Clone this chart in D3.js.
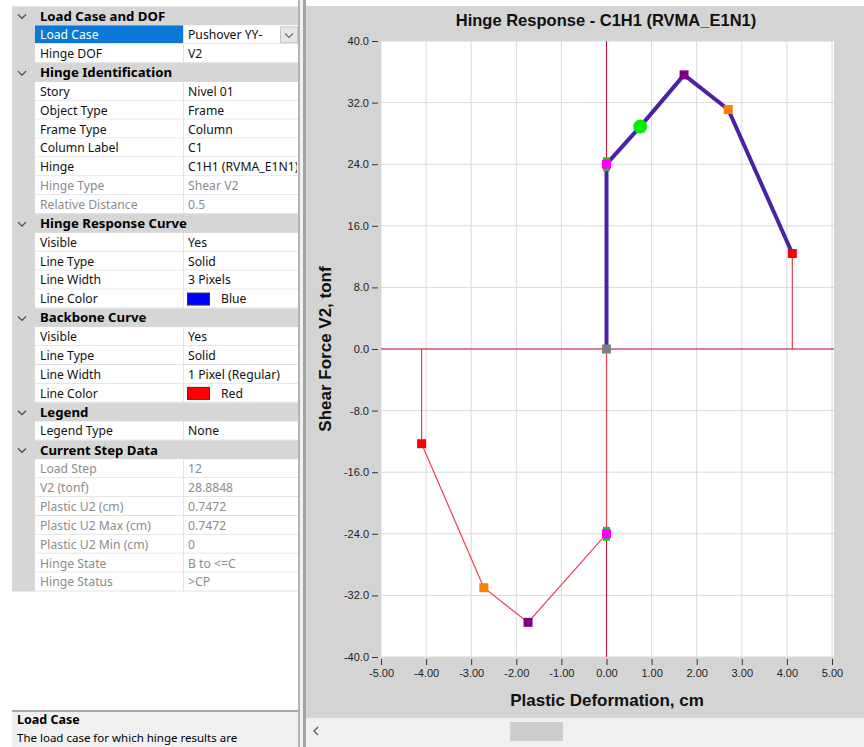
<!DOCTYPE html>
<html>
<head>
<meta charset="utf-8">
<script src="https://cdn.jsdelivr.net/npm/d3@7"></script>
<style>
  body { margin: 0; background: #fff; }
  svg { display: block; }
  .pg text { font-family: "Noto Sans", "Open Sans", sans-serif; font-size: 12.2px; }
  .pg .cat { font-weight: bold; font-size: 13.2px; }
  .axis text { font-family: "Liberation Sans", Arial, sans-serif; font-size: 11px; fill: #222; }
  .axis line { stroke: #333; }
  .ttl { font-family: "Liberation Sans", Arial, sans-serif; font-weight: bold; fill: #111; }
</style>
</head>
<body>
<div id="chart"></div>
<script>
// ---- chart values ----
const xTicks = [-5, -4, -3, -2, -1, 0, 1, 2, 3, 4, 5];
const yTicks = [-40, -32, -24, -16, -8, 0, 8, 16, 24, 32, 40];

// backbone curve (plastic deformation cm, shear tonf)
const backboneU = [-4.10, -4.10, -2.72, -1.74, 0, 0, 0, 1.72, 2.70, 4.12, 4.12];
const backboneV = [0, -12.3, -31.0, -35.5, -24.0, 0, 24.0, 35.6, 31.1, 12.4, 0];

// hinge response curve
const responseU = [0, 0, 0.7472, 1.72, 2.70, 4.12];
const responseV = [0, 24.0, 28.8848, 35.6, 31.1, 12.4];

// backbone points and their states
const pointU = [0, 0, 1.72, 2.70, 4.12, 0, -1.74, -2.72, -4.10];
const pointV = [0, 24.0, 35.6, 31.1, 12.4, -24.0, -35.5, -31.0, -12.3];
const pointState = ["A", "B", "C", "D", "E", "B", "C", "D", "E"];

// current step
const stepU = 0.7472;
const stepV = 28.8848;

// ---- property grid ----
const sectionTitles = ["Load Case and DOF", "Hinge Identification", "Hinge Response Curve",
  "Backbone Curve", "Legend", "Current Step Data"];
const sectionRows = [
  [["Load Case", "Pushover YY-"], ["Hinge DOF", "V2"]],
  [["Story", "Nivel 01"], ["Object Type", "Frame"], ["Frame Type", "Column"], ["Column Label", "C1"],
   ["Hinge", "C1H1 (RVMA_E1N1)"], ["Hinge Type", "Shear V2", true], ["Relative Distance", "0.5", true]],
  [["Visible", "Yes"], ["Line Type", "Solid"], ["Line Width", "3 Pixels"], ["Line Color", "Blue"]],
  [["Visible", "Yes"], ["Line Type", "Solid"], ["Line Width", "1 Pixel (Regular)"], ["Line Color", "Red"]],
  [["Legend Type", "None"]],
  [["Load Step", "12", true], ["V2 (tonf)", "28.8848", true], ["Plastic U2 (cm)", "0.7472", true],
   ["Plastic U2 Max (cm)", "0.7472", true], ["Plastic U2 Min (cm)", "0", true],
   ["Hinge State", "B to <=C", true], ["Hinge Status", ">CP", true]]
];
const swatchColors = { "Blue": "#0000ff", "Red": "#ff0000" };

const W = 864, H = 747;
const svg = d3.select("#chart").append("svg").attr("width", W).attr("height", H);

// plain hyphen for negatives, like the original
const loc = d3.formatLocale({ decimal: ".", thousands: ",", grouping: [3], currency: ["$", ""], minus: "-" });

// ================= left panel =================
const pg = svg.append("g").attr("class", "pg");
const rowTop = 6.5, rowH = 18.87, gx0 = 12, gx1 = 35, gxs = 183, gx2 = 298;

let rows = [];
sectionTitles.forEach((t, i) => {
  rows.push({ cat: true, name: t });
  sectionRows[i].forEach(r => rows.push({ cat: false, name: r[0], value: r[1], dim: !!r[2] }));
});

pg.append("defs").append("clipPath").attr("id", "valclip")
  .append("rect").attr("x", gxs).attr("y", 0).attr("width", gx2 - gxs - 1).attr("height", H);

// left strip
pg.append("rect").attr("x", gx0).attr("y", rowTop).attr("width", gx1 - gx0)
  .attr("height", rows.length * rowH).attr("fill", "#d6d6d6");

const rg = pg.selectAll("g.row").data(rows).join("g").attr("class", "row")
  .attr("transform", (d, i) => `translate(0,${rowTop + i * rowH})`);

rg.filter(d => d.cat).each(function(d) {
  const g = d3.select(this);
  g.append("rect").attr("x", gx0).attr("width", gx2 - gx0).attr("height", rowH).attr("fill", "#d6d6d6");
  g.append("path").attr("d", "M18,8 L22,12 L26,8").attr("fill", "none").attr("stroke", "#444").attr("stroke-width", 1.2);
  g.append("text").attr("class", "cat").attr("x", 40).attr("y", 14).text(d.name);
});

rg.filter(d => !d.cat).each(function(d) {
  const g = d3.select(this);
  const sel = d.name === "Load Case";
  g.append("rect").attr("x", gx1).attr("width", gx2 - gx1).attr("height", rowH).attr("fill", "#fff");
  if (sel) g.append("rect").attr("x", gx1).attr("width", gxs - gx1).attr("height", rowH - 1).attr("fill", "#0a78d4");
  g.append("line").attr("x1", gx1).attr("x2", gx2).attr("y1", rowH - 0.5).attr("y2", rowH - 0.5).attr("stroke", "#e2e2e2");
  g.append("line").attr("x1", gxs + 0.5).attr("x2", gxs + 0.5).attr("y1", 0).attr("y2", rowH).attr("stroke", "#e2e2e2");
  g.append("text").attr("x", 40).attr("y", 13.8).attr("fill", sel ? "#fff" : (d.dim ? "#8c8c8c" : "#111")).text(d.name);
  if (swatchColors[d.value]) {
    g.append("rect").attr("x", 187.5).attr("y", 3.5).attr("width", 22).attr("height", 12)
      .attr("fill", swatchColors[d.value]).attr("stroke", "#333");
    g.append("text").attr("x", 221).attr("y", 13.8).attr("fill", "#111").text(d.value);
  } else {
    g.append("text").attr("x", 188).attr("y", 13.8).attr("clip-path", "url(#valclip)")
      .attr("fill", d.dim ? "#8c8c8c" : "#111").text(d.value);
  }
  if (sel) {
    g.append("rect").attr("x", 280.5).attr("y", 1.5).attr("width", 17).attr("height", rowH - 3)
      .attr("fill", "#e6e6e6").attr("stroke", "#c4c4c4");
    g.append("path").attr("d", "M285,8 L289,12 L293,8").attr("fill", "none").attr("stroke", "#666").attr("stroke-width", 1.1);
  }
});

// description box
pg.append("rect").attr("x", gx0).attr("y", 711).attr("width", gx2 - gx0).attr("height", H - 711).attr("fill", "#f0f0f0");
pg.append("line").attr("x1", gx0).attr("x2", gx2).attr("y1", 711).attr("y2", 711).attr("stroke", "#a8a8a8").attr("stroke-width", 2);
pg.append("text").attr("class", "cat").attr("x", 17).attr("y", 724).style("font-size", "12.5px").text("Load Case");
pg.append("text").attr("x", 17).attr("y", 742).style("font-size", "11.5px").text("The load case for which hinge results are");

// splitter
svg.append("rect").attr("x", 298).attr("y", 0).attr("width", 2).attr("height", H).attr("fill", "#b4b4b4");
svg.append("rect").attr("x", 300).attr("y", 0).attr("width", 3).attr("height", H).attr("fill", "#f0f0f0");
svg.append("rect").attr("x", 303).attr("y", 0).attr("width", 3).attr("height", H).attr("fill", "#a4a4a4");

// ================= chart =================
const cg = svg.append("g");
cg.append("rect").attr("x", 306).attr("y", 6).attr("width", W - 306).attr("height", 712).attr("fill", "#d4d4d4");

const x = d3.scaleLinear().domain([-5, 5]).range([381, 832]);
const y = d3.scaleLinear().domain([-40, 40]).range([657, 41]);

cg.append("rect").attr("x", 381).attr("y", 41).attr("width", 834 - 381).attr("height", 657 - 41).attr("fill", "#fff");

// grid
cg.append("g").selectAll("line").data(xTicks).join("line")
  .attr("x1", d => x(d)).attr("x2", d => x(d)).attr("y1", y(40)).attr("y2", y(-40))
  .attr("stroke", "#d9d9d9");
cg.append("g").selectAll("line").data(yTicks).join("line")
  .attr("x1", x(-5)).attr("x2", 834).attr("y1", d => y(d)).attr("y2", d => y(d))
  .attr("stroke", "#d9d9d9");

// axes
const yAxis = d3.axisLeft(y).tickValues(yTicks).tickSize(6).tickPadding(3).tickFormat(loc.format(".1f"));
cg.append("g").attr("class", "axis").attr("transform", "translate(378,0)").call(yAxis)
  .call(g => g.select(".domain").remove());
const xAxis = d3.axisBottom(x).tickValues(xTicks).tickSize(6).tickPadding(4).tickFormat(loc.format(".2f"));
cg.append("g").attr("class", "axis").attr("transform", "translate(0,659)").call(xAxis)
  .call(g => g.select(".domain").remove());

// zero lines
cg.append("line").attr("x1", x(-5)).attr("x2", 834).attr("y1", y(0)).attr("y2", y(0)).attr("stroke", "#cc1030");
cg.append("line").attr("x1", x(0)).attr("x2", x(0)).attr("y1", y(40)).attr("y2", y(-40)).attr("stroke", "#cc1030");

const line = d3.line().x(i => x(i[0])).y(i => y(i[1]));

// backbone
cg.append("path").datum(d3.zip(backboneU, backboneV)).attr("d", line)
  .attr("fill", "none").attr("stroke", "#e6404e").attr("stroke-width", 1.2);

// response
cg.append("path").datum(d3.zip(responseU, responseV)).attr("d", line)
  .attr("fill", "none").attr("stroke", "#4a22a6").attr("stroke-width", 4).attr("stroke-linejoin", "round");

const stateColor = d3.scaleOrdinal().domain(["A", "B", "C", "D", "E"])
  .range(["#808080", "#ff00ff", "#800080", "#ff8000", "#ff0000"]);

const pts = d3.range(pointU.length).map(i => ({ u: pointU[i], v: pointV[i], s: pointState[i] }));

// green marks under B points
cg.append("g").selectAll("rect").data(pts.filter(p => p.s === "B")).join("rect")
  .attr("x", p => x(p.u) - 3.5).attr("y", p => y(p.v) - 7).attr("width", 7).attr("height", 14)
  .attr("fill", "#10d010");

cg.append("g").selectAll("rect").data(pts).join("rect")
  .attr("x", p => x(p.u) - 4.5).attr("y", p => y(p.v) - 4.5).attr("width", 9).attr("height", 9)
  .attr("fill", p => stateColor(p.s));

// current step marker
cg.append("circle").attr("cx", x(stepU)).attr("cy", y(stepV)).attr("r", 7).attr("fill", "#00f000");

// titles
cg.append("text").attr("class", "ttl").attr("x", 606).attr("y", 26).attr("text-anchor", "middle")
  .attr("font-size", 16.5).text("Hinge Response - C1H1 (RVMA_E1N1)");
cg.append("text").attr("class", "ttl").attr("x", 607).attr("y", 706).attr("text-anchor", "middle")
  .attr("font-size", 17).text("Plastic Deformation, cm");
cg.append("text").attr("class", "ttl").attr("text-anchor", "middle")
  .attr("transform", `translate(331,${y(0)}) rotate(-90)`)
  .attr("font-size", 17).text("Shear Force V2, tonf");

// bottom scrollbar
cg.append("rect").attr("x", 306).attr("y", 718).attr("width", W - 306).attr("height", H - 718).attr("fill", "#f0f0f0");
cg.append("path").attr("d", "M318,727 L314,731 L318,735").attr("fill", "none").attr("stroke", "#555").attr("stroke-width", 1.2);
cg.append("rect").attr("x", 510).attr("y", 722).attr("width", 53).attr("height", 19).attr("fill", "#cdcdcd");
</script>
</body>
</html>
